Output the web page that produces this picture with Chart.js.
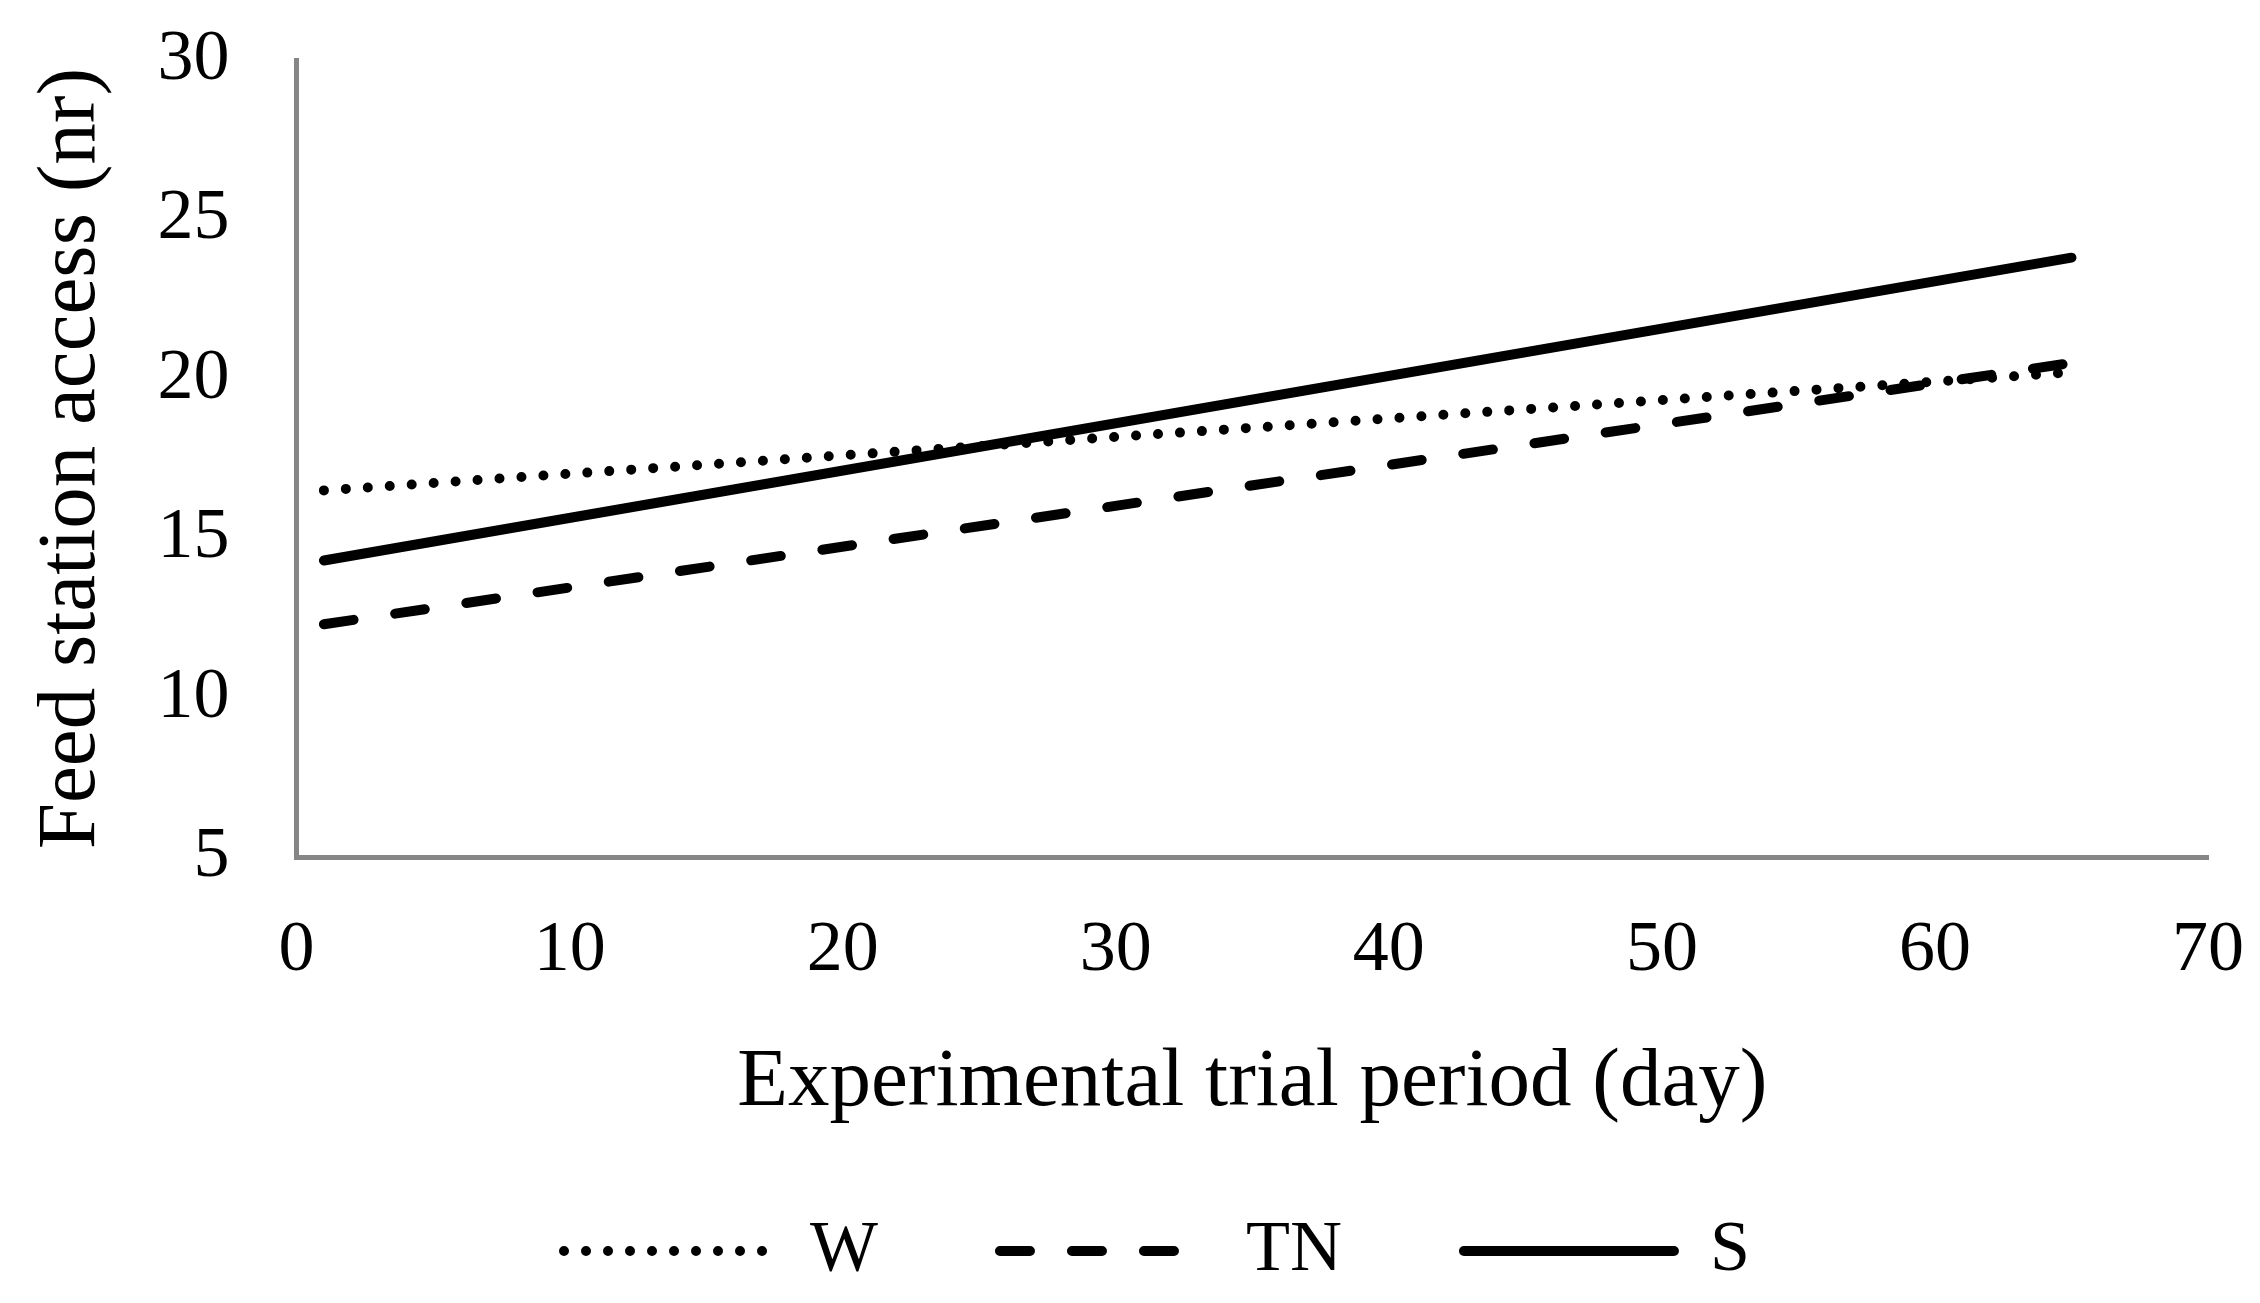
<!DOCTYPE html>
<html>
<head>
<meta charset="utf-8">
<title>Feed station access</title>
<script src="https://cdn.jsdelivr.net/npm/chart.js@4.4.0/dist/chart.umd.min.js"></script>
<style>
  html, body { margin: 0; padding: 0; background: #fff; }
  #wrap { width: 2260px; height: 1303px; }
</style>
</head>
<body>
<div id="wrap"><canvas id="chart" width="2260" height="1303"></canvas></div>
<script>
  /* trend lines, start and end of the trial */
  var DAYS = [1, 65];
  var W_VALUES = [16.5, 20.2];
  var TN_VALUES = [12.3, 20.5];
  var S_VALUES = [14.3, 23.8];
  var SERIES_NAMES = ['W', 'TN', 'S'];
  var X_TICKS = [0, 10, 20, 30, 40, 50, 60, 70];
  var Y_TICKS = [5, 10, 15, 20, 25, 30];

  var FONT = "'Liberation Serif', 'Times New Roman', serif";
  var AXIS_GREY = '#868686';

  function points(values) {
    return DAYS.map(function (d, i) { return { x: d, y: values[i] }; });
  }

  function series(name, values, dash) {
    return {
      label: name,
      data: points(values),
      borderColor: '#000',
      backgroundColor: '#000',
      borderWidth: 10,
      borderDash: dash,
      borderCapStyle: 'round',
      pointRadius: 0,
      fill: false,
      tension: 0
    };
  }

  /* invisible tick marks give the label gap without padding the chart area */
  function hiddenGrid(len) {
    return { display: true, drawOnChartArea: false, drawTicks: true, tickLength: len, color: 'rgba(0,0,0,0)' };
  }

  Chart.defaults.font.family = FONT;
  Chart.defaults.color = '#000';

  new Chart(document.getElementById('chart'), {
    type: 'line',
    data: {
      datasets: [
        series(SERIES_NAMES[0], W_VALUES, [0, 22]),
        series(SERIES_NAMES[1], TN_VALUES, [30, 42]),
        series(SERIES_NAMES[2], S_VALUES, [])
      ]
    },
    options: {
      responsive: false,
      animation: false,
      devicePixelRatio: 1,
      /* left padding pushes the legend centre right; the y title pulls back */
      layout: { padding: { top: 60, right: 52, bottom: 6, left: 106 } },
      scales: {
        x: {
          type: 'linear',
          min: X_TICKS[0],
          max: X_TICKS[X_TICKS.length - 1],
          afterBuildTicks: function (axis) {
            axis.ticks = X_TICKS.map(function (v) { return { value: v }; });
          },
          grid: hiddenGrid(51),
          border: { display: true, color: AXIS_GREY, width: 5 },
          ticks: { padding: 0, font: { size: 72 }, maxRotation: 0 },
          title: {
            display: true,
            text: 'Experimental trial period (day)',
            font: { size: 83, lineHeight: 0.2 },
            padding: { top: 81, bottom: 1 }
          }
        },
        y: {
          min: Y_TICKS[0],
          max: Y_TICKS[Y_TICKS.length - 1],
          afterBuildTicks: function (axis) {
            axis.ticks = Y_TICKS.map(function (v) { return { value: v }; });
          },
          grid: hiddenGrid(67),
          border: { display: true, color: AXIS_GREY, width: 5 },
          ticks: { padding: 0, font: { size: 72 } },
          title: {
            display: true,
            text: 'Feed station access (nr)',
            font: { size: 83 },
            padding: { top: -84, bottom: 36 }
          }
        }
      },
      plugins: {
        tooltip: { enabled: false },
        legend: {
          position: 'bottom',
          labels: {
            usePointStyle: true,
            pointStyleWidth: 210,
            padding: 122,
            font: { size: 72 },
            generateLabels: function (chart) {
              return chart.data.datasets.map(function (ds, i) {
                return {
                  text: ds.label,
                  datasetIndex: i,
                  fillStyle: ds.borderColor,
                  strokeStyle: ds.borderColor,
                  fontColor: '#000',
                  lineWidth: ds.borderWidth,
                  lineDash: ds.borderDash,
                  lineCap: ds.borderCapStyle,
                  pointStyle: 'line',
                  hidden: false
                };
              });
            }
          }
        }
      }
    }
  });
</script>
</body>
</html>
